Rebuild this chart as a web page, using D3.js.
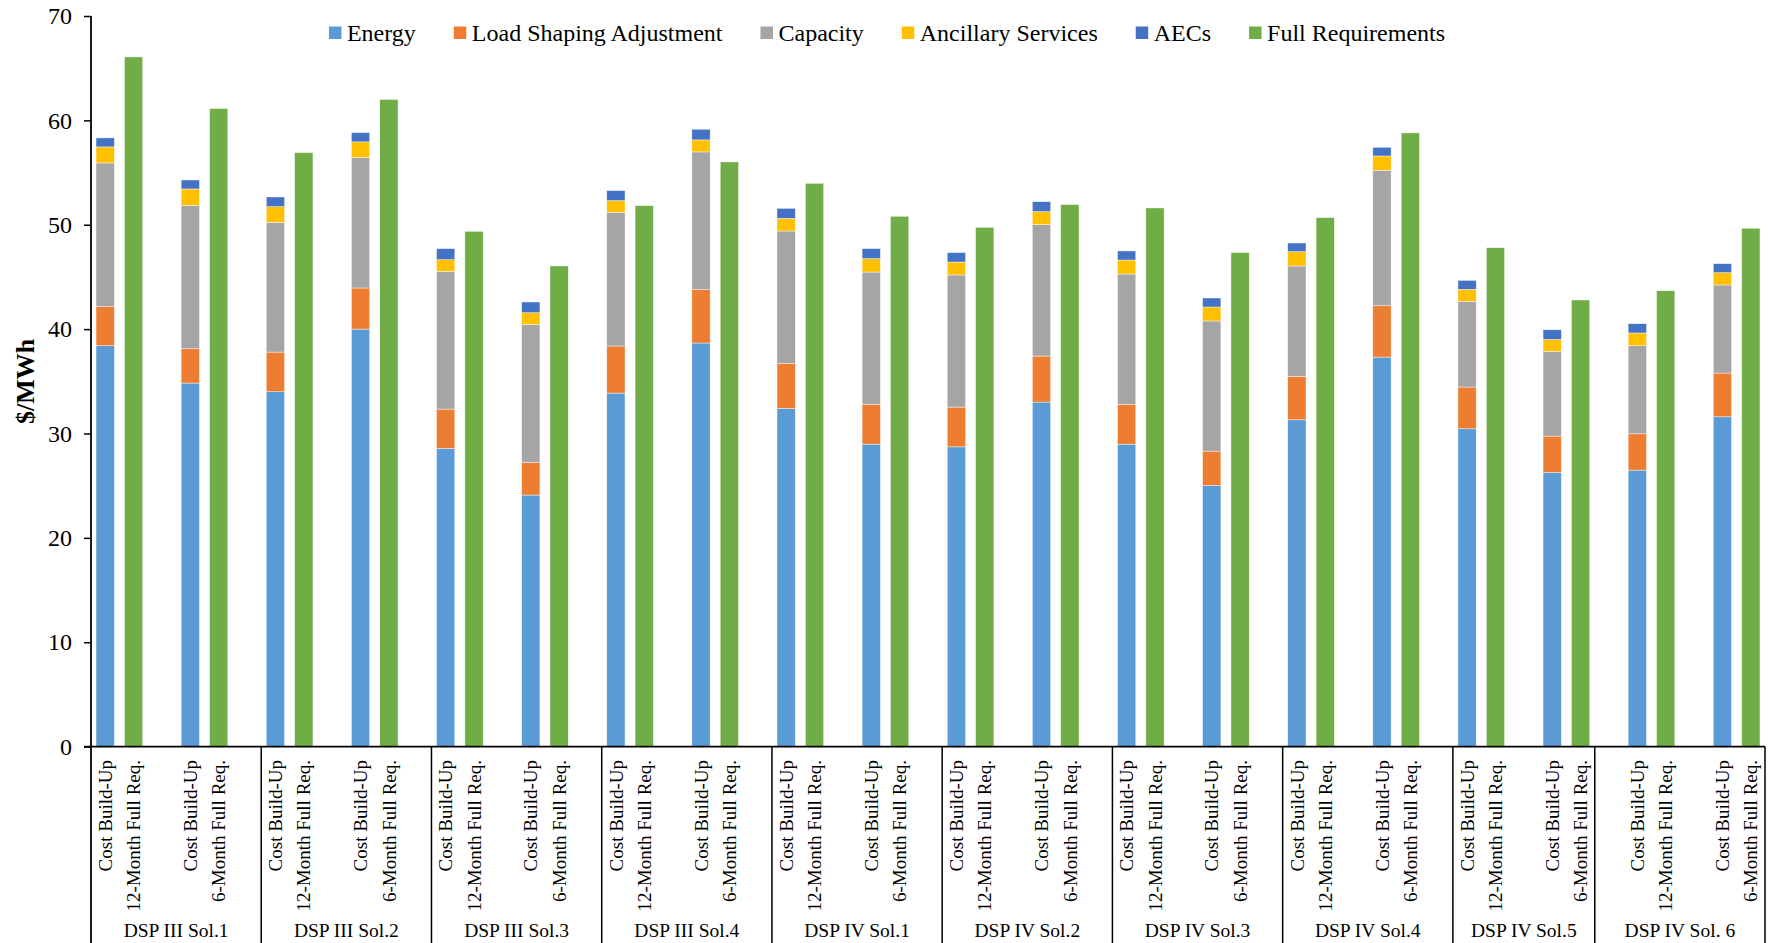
<!DOCTYPE html>
<html>
<head>
<meta charset="utf-8">
<script src="https://cdn.jsdelivr.net/npm/d3@7"></script>
<style>
  html, body { margin: 0; padding: 0; background: #fff; }
  svg { display: block; }
  svg text { font-family: "Liberation Serif", "Times New Roman", serif; fill: #000; }
</style>
</head>
<body>
<svg id="chart" width="1774" height="943"></svg>
<script>
// solutions (outer category) and contract terms (inner category)
const groups = ['DSP III Sol.1', 'DSP III Sol.2', 'DSP III Sol.3', 'DSP III Sol.4', 'DSP IV Sol.1',
  'DSP IV Sol.2', 'DSP IV Sol.3', 'DSP IV Sol.4', 'DSP IV Sol.5', 'DSP IV Sol. 6'];
const terms = ['12-Month', '6-Month'];
// blank category row placement in the sheet (after the group, none, or before it)
const blankRow = ['end', 'end', 'end', 'end', 'end', 'end', 'end', 'end', 'none', 'start'];

// cost build-up components, $/MWh, order: group by group, 12-Month then 6-Month
const energy = [38.41, 34.83, 34.0, 40.0, 28.56, 24.1, 33.87, 38.67, 32.4, 28.98,
  28.72, 33.01, 28.98, 25.02, 31.31, 37.32, 30.45, 26.26, 26.49, 31.6];
const loadShaping = [3.74, 3.29, 3.8, 3.94, 3.78, 3.12, 4.51, 5.11, 4.31, 3.8,
  3.81, 4.41, 3.8, 3.29, 4.16, 4.92, 4.0, 3.49, 3.48, 4.19];
const capacity = [13.77, 13.74, 12.43, 12.52, 13.19, 13.23, 12.81, 13.2, 12.69, 12.69,
  12.66, 12.59, 12.5, 12.47, 10.58, 12.98, 8.21, 8.11, 8.44, 8.44];
const ancillary = [1.54, 1.57, 1.5, 1.48, 1.12, 1.12, 1.12, 1.15, 1.21, 1.28,
  1.24, 1.25, 1.34, 1.34, 1.37, 1.37, 1.15, 1.15, 1.22, 1.18];
const aecs = [0.86, 0.86, 0.93, 0.89, 1.06, 1.03, 0.96, 1.02, 0.96, 0.96,
  0.9, 0.95, 0.87, 0.86, 0.83, 0.83, 0.86, 0.93, 0.89, 0.86];
const fullReq = [66.08, 61.13, 56.91, 62.0, 49.37, 46.05, 51.83, 56.02, 53.97, 50.81,
  49.75, 51.93, 51.61, 47.33, 50.68, 58.8, 47.8, 42.79, 43.68, 49.66];

const yTicks = [0, 10, 20, 30, 40, 50, 60, 70];

const series = [
  { key: 'energy', name: 'Energy', color: '#5B9BD5' },
  { key: 'lsa', name: 'Load Shaping Adjustment', color: '#ED7D31' },
  { key: 'capacity', name: 'Capacity', color: '#A5A5A5' },
  { key: 'ancillary', name: 'Ancillary Services', color: '#FFC000' },
  { key: 'aecs', name: 'AECs', color: '#4472C4' }
];
const fullColor = '#70AD47';

const width = 1774, height = 943;
const plot = { left: 91, right: 1765, top: 16, bottom: 746.6 };
const serif = '"Liberation Serif", "Times New Roman", serif';

const svg = d3.select('#chart');

// rows for the stack
const rows = energy.map((v, i) => ({
  id: i, energy: v, lsa: loadShaping[i], capacity: capacity[i],
  ancillary: ancillary[i], aecs: aecs[i], full: fullReq[i]
}));

// every bar has its own category slot, like the excel sheet
const slots = [];
groups.forEach((g, gi) => {
  if (blankRow[gi] === 'start') slots.push({ key: `gap-${gi}-s`, group: gi });
  terms.forEach((t, ti) => {
    const i = gi * 2 + ti;
    slots.push({ key: `cost-${i}`, group: gi, kind: 'cost', label: 'Cost Build-Up' });
    slots.push({ key: `full-${i}`, group: gi, kind: 'full', label: `${t} Full Req.` });
    if (ti === 0) slots.push({ key: `gap-${gi}-m`, group: gi });
  });
  if (blankRow[gi] === 'end') slots.push({ key: `gap-${gi}-e`, group: gi });
});

const pad = 0.355;
const x = d3.scaleBand()
  .domain(slots.map(s => s.key))
  .range([plot.left, plot.right])
  .paddingInner(pad)
  .paddingOuter(pad / 2);

const y = d3.scaleLinear().domain([0, 70]).range([plot.bottom, plot.top]);

// stacked cost build-up
const stack = d3.stack().keys(series.map(s => s.key));
const layers = stack(rows);

svg.append('g')
  .selectAll('g')
  .data(layers)
  .join('g')
  .attr('fill', (d, i) => series[i].color)
  .selectAll('rect')
  .data(d => d)
  .join('rect')
  .attr('x', d => x(`cost-${d.data.id}`))
  .attr('y', d => y(d[1]))
  .attr('width', x.bandwidth())
  .attr('height', d => y(d[0]) - y(d[1]))
  .attr('stroke', '#fff')
  .attr('stroke-width', 0.6)
  .attr('stroke-opacity', 0.7);

// full requirements bars
svg.append('g')
  .selectAll('rect')
  .data(rows)
  .join('rect')
  .attr('x', d => x(`full-${d.id}`))
  .attr('y', d => y(d.full))
  .attr('width', x.bandwidth())
  .attr('height', d => y(0) - y(d.full))
  .attr('fill', fullColor)
  .attr('stroke', '#fff')
  .attr('stroke-width', 0.6)
  .attr('stroke-opacity', 0.7);

// y axis
const yAxis = svg.append('g')
  .attr('transform', `translate(${plot.left},0)`)
  .call(d3.axisLeft(y).tickValues(yTicks).tickSizeOuter(0).tickSize(7).tickPadding(12));
yAxis.attr('font-family', serif);
yAxis.select('.domain').remove();
yAxis.selectAll('line').attr('stroke', '#000').attr('stroke-width', 1.5);
yAxis.selectAll('text')
  .attr('font-family', serif)
  .attr('font-size', 24)
  .attr('fill', '#000');

svg.append('line')
  .attr('x1', plot.left).attr('x2', plot.left)
  .attr('y1', y(70)).attr('y2', height)
  .attr('stroke', '#000').attr('stroke-width', 1.8);

svg.append('line')
  .attr('x1', plot.left - 7).attr('x2', plot.right)
  .attr('y1', y(0)).attr('y2', y(0))
  .attr('stroke', '#000').attr('stroke-width', 1.8);

svg.append('text')
  .attr('transform', `translate(25,${(plot.top + plot.bottom) / 2}) rotate(-90)`)
  .attr('text-anchor', 'middle')
  .attr('dy', '0.35em')
  .attr('font-family', serif)
  .attr('font-size', 26)
  .attr('font-weight', 'bold')
  .text('$/MWh');

// inner category labels
svg.append('g')
  .selectAll('text')
  .data(slots.filter(s => s.kind))
  .join('text')
  .attr('transform', s => `translate(${x(s.key) + x.bandwidth() / 2},760) rotate(-90)`)
  .attr('text-anchor', 'end')
  .attr('dy', '0.35em')
  .attr('font-family', serif)
  .attr('font-size', 19)
  .text(s => s.label);

// group separators and outer labels
const step = x.step();
const spans = groups.map((g, gi) => {
  const idx = slots.map((s, i) => s.group === gi ? i : -1).filter(i => i >= 0);
  return { name: g, x0: plot.left + step * idx[0], x1: plot.left + step * (idx[idx.length - 1] + 1) };
});

svg.append('g')
  .selectAll('line')
  .data(spans)
  .join('line')
  .attr('x1', d => d.x1).attr('x2', d => d.x1)
  .attr('y1', y(0)).attr('y2', height)
  .attr('stroke', '#000').attr('stroke-width', 1.5);

svg.append('g')
  .selectAll('text')
  .data(spans)
  .join('text')
  .attr('x', d => (d.x0 + d.x1) / 2)
  .attr('y', 937)
  .attr('text-anchor', 'middle')
  .attr('font-family', serif)
  .attr('font-size', 19.5)
  .text(d => d.name);

// legend
const legendItems = series.map(s => ({ name: s.name, color: s.color }))
  .concat([{ name: 'Full Requirements', color: fullColor }]);
const legend = svg.append('g');
const items = legend.selectAll('g')
  .data(legendItems)
  .join('g');
items.append('rect')
  .attr('width', 12.5).attr('height', 12.5)
  .attr('y', 26.5)
  .attr('fill', d => d.color);
items.append('text')
  .attr('x', 18)
  .attr('y', 41)
  .attr('font-family', serif)
  .attr('font-size', 24)
  .text(d => d.name);

let cursor = 0;
const gap = 38;
items.each(function() {
  const w = 18 + d3.select(this).select('text').node().getComputedTextLength();
  d3.select(this).attr('transform', `translate(${cursor},0)`);
  cursor += w + gap;
});
const legendWidth = cursor - gap;
legend.attr('transform', `translate(${width / 2 - legendWidth / 2},0)`);
</script>
</body>
</html>
